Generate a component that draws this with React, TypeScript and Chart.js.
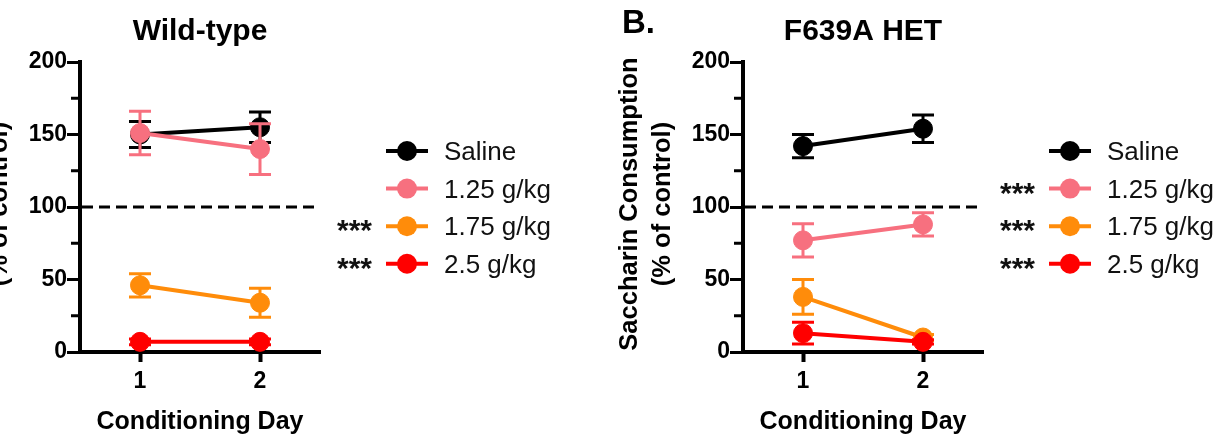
import React, { useEffect, useRef } from "react";
import { Chart, registerables } from "chart.js";

Chart.register(...registerables);

// Conditioning days on the x axis
const days = [1, 2];

// Groups, in legend order
const doseLabels = ["Saline", "1.25 g/kg", "1.75 g/kg", "2.5 g/kg"];
const doseColors = ["#000000", "#f7707f", "#ff8c0a", "#ff0000"];

// Wild-type: saccharin consumption (% of control), mean and SEM per day
const wtSaline = [150, 155];
const wtSalineSem = [9, 10.5];
const wt125 = [151, 140];
const wt125Sem = [15, 17.5];
const wt175 = [46, 34];
const wt175Sem = [8, 10];
const wt25 = [7, 7];
const wt25Sem = [2, 2];
const wtStars = ["", "", "***", "***"];

// F639A heterozygous mice
const hetSaline = [142, 154];
const hetSalineSem = [8, 9.5];
const het125 = [77, 88];
const het125Sem = [11.5, 8];
const het175 = [38, 10];
const het175Sem = [12, 2];
const het25 = [13, 7];
const het25Sem = [7.5, 1.5];
const hetStars = ["", "***", "***", "***"];

// Axis ticks and the control reference level
const yMajorStep = 50;
const yMinorTicks = [25, 75, 125, 175];
const yMin = 0;
const yMax = 200;
const controlLevel = 100;

const FONT = '"Liberation Sans", Arial, Helvetica, sans-serif';
const CANVAS_W = 618;
const CANVAS_H = 444;

type PanelSpec = {
  title: string;
  letter: string;
  means: number[][];
  sems: number[][];
  stars: string[];
};

const decorPlugin = {
  id: "panelDecor",
  beforeDatasetsDraw(chart: any) {
    const { ctx, chartArea } = chart;
    const y = chart.scales.y.getPixelForValue(controlLevel);
    ctx.save();
    ctx.strokeStyle = "#000";
    ctx.lineWidth = 3;
    ctx.setLineDash([11, 6]);
    ctx.beginPath();
    ctx.moveTo(chartArea.left + 2, y);
    ctx.lineTo(chartArea.right - 4, y);
    ctx.stroke();
    ctx.restore();
  },
  beforeDatasetDraw(chart: any, args: any) {
    // SEM error bars, drawn just beneath each group's line and markers
    const ds = chart.data.datasets[args.index];
    const sem: number[] = ds.errorBars || [];
    const yScale = chart.scales.y;
    const { ctx } = chart;
    ctx.save();
    ctx.strokeStyle = ds.borderColor;
    ctx.lineWidth = 3;
    args.meta.data.forEach((pt: any, i: number) => {
      const v = ds.data[i].y;
      const e = sem[i] || 0;
      const yTop = yScale.getPixelForValue(v + e);
      const yBot = yScale.getPixelForValue(v - e);
      const x = pt.x;
      ctx.beginPath();
      ctx.moveTo(x, yTop);
      ctx.lineTo(x, yBot);
      ctx.moveTo(x - 11, yTop);
      ctx.lineTo(x + 11, yTop);
      ctx.moveTo(x - 11, yBot);
      ctx.lineTo(x + 11, yBot);
      ctx.stroke();
    });
    ctx.restore();
  },
  afterDraw(chart: any, _args: any, opts: any) {
    const { ctx, chartArea } = chart;
    const yScale = chart.scales.y;
    const cx = (chartArea.left + chartArea.right) / 2;
    const cy = (chartArea.top + chartArea.bottom) / 2;
    ctx.save();

    // minor y ticks
    ctx.strokeStyle = "#000";
    ctx.lineWidth = 3;
    yMinorTicks.forEach((v) => {
      const y = yScale.getPixelForValue(v);
      ctx.beginPath();
      ctx.moveTo(chartArea.left - 9, y);
      ctx.lineTo(chartArea.left, y);
      ctx.stroke();
    });

    ctx.fillStyle = "#000";

    // panel title
    ctx.font = `bold 30px ${FONT}`;
    ctx.textAlign = "center";
    ctx.textBaseline = "alphabetic";
    ctx.fillText(opts.title, cx, 40);

    // panel letter
    if (opts.letter) {
      ctx.font = `bold 33px ${FONT}`;
      ctx.textAlign = "left";
      ctx.fillText(opts.letter, 22, 33);
    }

    // x axis title
    ctx.font = `bold 25px ${FONT}`;
    ctx.textAlign = "center";
    ctx.fillText("Conditioning Day", cx, 429);

    // y axis title (two lines, rotated)
    ctx.save();
    ctx.font = `bold 25.5px ${FONT}`;
    ctx.textAlign = "center";
    ctx.textBaseline = "middle";
    ctx.translate(chartArea.left - 113, cy - 3);
    ctx.rotate(-Math.PI / 2);
    ctx.fillText("Saccharin Consumption", 0, 0);
    ctx.restore();
    ctx.save();
    ctx.font = `bold 25.5px ${FONT}`;
    ctx.textAlign = "center";
    ctx.textBaseline = "middle";
    ctx.translate(chartArea.left - 80, cy - 3);
    ctx.rotate(-Math.PI / 2);
    ctx.fillText("(% of control)", 0, 0);
    ctx.restore();

    // legend with significance markers
    const R = chartArea.right;
    chart.data.datasets.forEach((ds: any, i: number) => {
      const rowY = 151 + i * 37.6;
      ctx.strokeStyle = ds.borderColor;
      ctx.fillStyle = ds.borderColor;
      ctx.lineWidth = 4;
      ctx.beginPath();
      ctx.moveTo(R + 66, rowY);
      ctx.lineTo(R + 108, rowY);
      ctx.stroke();
      ctx.beginPath();
      ctx.arc(R + 87, rowY, 10, 0, Math.PI * 2);
      ctx.fill();

      ctx.fillStyle = "#111";
      ctx.font = `26px ${FONT}`;
      ctx.textAlign = "left";
      ctx.textBaseline = "alphabetic";
      ctx.fillText(ds.label, R + 124, rowY + 9);

      const s = opts.stars[i];
      if (s) {
        ctx.font = `bold 30px ${FONT}`;
        ctx.textAlign = "right";
        ctx.fillText(s, R + 52, rowY + 14);
      }
    });

    ctx.restore();
  },
};

function makeConfig(spec: PanelSpec): any {
  const datasets = doseLabels.map((label, i) => ({
    label,
    data: days.map((d, j) => ({ x: d, y: spec.means[i][j] })),
    errorBars: spec.sems[i],
    borderColor: doseColors[i],
    backgroundColor: doseColors[i],
    pointBackgroundColor: doseColors[i],
    pointBorderColor: doseColors[i],
    pointRadius: 9.5,
    pointBorderWidth: 1,
    borderWidth: 4,
    tension: 0,
    clip: false,
    order: doseLabels.length - i,
  }));

  return {
    type: "line",
    data: { datasets },
    plugins: [decorPlugin],
    options: {
      responsive: false,
      animation: false,
      events: [],
      layout: { padding: { left: 0, right: CANVAS_W - 383, top: 62, bottom: 0 } },
      plugins: {
        legend: { display: false },
        tooltip: { enabled: false },
        title: { display: false },
        panelDecor: { title: spec.title, letter: spec.letter, stars: spec.stars },
      },
      scales: {
        x: {
          type: "linear",
          min: 0.5,
          max: 2.5,
          afterBuildTicks: (s: any) => {
            s.ticks = days.map((v) => ({ value: v }));
          },
          afterFit: (s: any) => {
            s.height = CANVAS_H - 352;
          },
          ticks: {
            autoSkip: false,
            maxRotation: 0,
            padding: 6,
            color: "#000",
            font: { family: FONT, size: 23, weight: "bold" },
            callback: (v: any) => String(v),
          },
          grid: {
            drawOnChartArea: false,
            drawTicks: true,
            tickLength: 10,
            tickWidth: 4,
            tickColor: "#000",
          },
          border: { display: true, width: 4, color: "#000" },
        },
        y: {
          type: "linear",
          min: yMin,
          max: yMax,
          afterFit: (s: any) => {
            s.width = 143;
          },
          ticks: {
            stepSize: yMajorStep,
            padding: 0,
            color: "#000",
            font: { family: FONT, size: 23, weight: "bold" },
          },
          grid: {
            drawOnChartArea: false,
            drawTicks: true,
            tickLength: 13,
            tickWidth: 3,
            tickColor: "#000",
          },
          border: { display: true, width: 4, color: "#000" },
        },
      },
    },
  };
}

const wildType: PanelSpec = {
  title: "Wild-type",
  letter: "",
  means: [wtSaline, wt125, wt175, wt25],
  sems: [wtSalineSem, wt125Sem, wt175Sem, wt25Sem],
  stars: wtStars,
};

const het: PanelSpec = {
  title: "F639A HET",
  letter: "B.",
  means: [hetSaline, het125, het175, het25],
  sems: [hetSalineSem, het125Sem, het175Sem, het25Sem],
  stars: hetStars,
};

function Panel({ spec, left }: { spec: PanelSpec; left: number }) {
  const ref = useRef<HTMLCanvasElement | null>(null);
  useEffect(() => {
    if (!ref.current) return;
    const chart = new Chart(ref.current, makeConfig(spec));
    return () => chart.destroy();
  }, [spec]);
  return (
    <canvas
      ref={ref}
      width={CANVAS_W}
      height={CANVAS_H}
      style={{ position: "absolute", left, top: 0, width: CANVAS_W, height: CANVAS_H }}
    />
  );
}

export default function App() {
  return (
    <div
      style={{
        position: "absolute",
        left: 0,
        top: 0,
        width: 1218,
        height: 444,
        overflow: "hidden",
        background: "#fff",
      }}
    >
      <Panel spec={wildType} left={-63} />
      <Panel spec={het} left={600} />
    </div>
  );
}
